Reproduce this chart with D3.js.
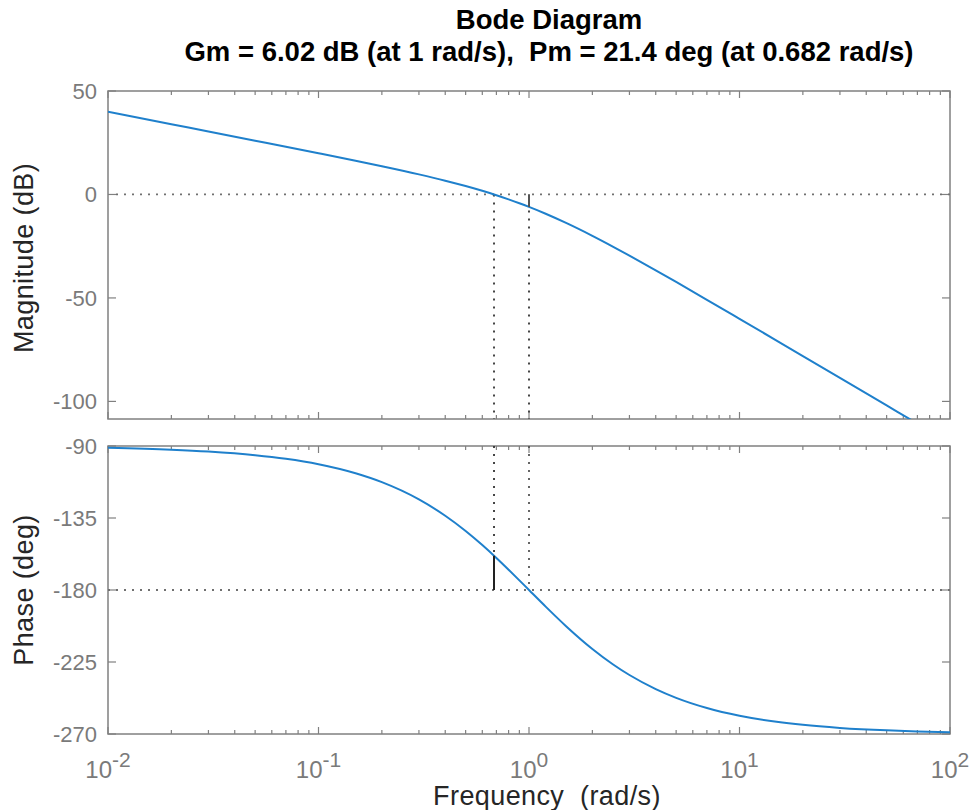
<!DOCTYPE html>
<html><head><meta charset="utf-8">
<script src="https://cdn.jsdelivr.net/npm/d3@7"></script>
<style>body{margin:0;background:#fff}</style>
</head><body><svg id="c" width="975" height="810" xmlns="http://www.w3.org/2000/svg"></svg>
<script>
// ---- data ----
const freq        = [0.01, 0.02, 0.03, 0.05, 0.07, 0.1, 0.15, 0.2, 0.3, 0.4, 0.5, 0.6, 0.7, 0.8, 0.9, 1, 1.2, 1.5, 2, 2.5, 3, 4, 5, 7, 10, 15, 20, 30, 50, 70, 100];
const magnitudeDb = [40.00, 33.97, 30.45, 26.00, 23.06, 19.91, 16.28, 13.64, 9.71, 6.67, 4.08, 1.77, -0.36, -2.36, -4.24, -6.02, -9.33, -13.76, -20.00, -25.17, -29.54, -36.65, -42.28, -50.88, -60.09, -70.60, -78.08, -88.63, -101.94, -110.71, -120.00];
const phaseDeg    = [-91.15, -92.29, -93.44, -95.72, -98.01, -101.42, -107.06, -112.62, -123.40, -133.60, -143.13, -151.93, -159.98, -167.32, -173.97, -180.00, -190.39, -202.62, -216.87, -226.40, -233.13, -241.93, -247.38, -253.74, -258.58, -262.37, -264.28, -266.18, -267.71, -268.36, -268.85];
const magTicks    = [-100, -50, 0, 50];
const phaseTicks  = [-270, -225, -180, -135, -90];
const freqTicks   = [0.01, 0.1, 1, 10, 100];
const freqTickExp = ["-2", "-1", "0", "1", "2"];
const magDomain   = [-108.5, 50];
const phaseDomain = [-270, -90];
const freqDomain  = [0.01, 100];
const gmFreq = 1, gmDb = 6.02, pmFreq = 0.682, pmDeg = 21.4;
const titleLines = ["Bode Diagram", "Gm = 6.02 dB (at 1 rad/s),  Pm = 21.4 deg (at 0.682 rad/s)"];

// ---- layout ----
const L = 108, R = 950;
const topPanel = {t: 91, b: 419};
const botPanel = {t: 446, b: 734};
const FONT = "Liberation Sans, Arial, sans-serif";
const axisColor = "#808080", tickTextColor = "#7a7a7a", labelColor = "#262626", lineColor = "#1f80cc";
const svg = d3.select("#c");
const x = d3.scaleLog().domain(freqDomain).range([L, R]);
const yMag = d3.scaleLinear().domain(magDomain).range([topPanel.b, topPanel.t]);
const yPh = d3.scaleLinear().domain(phaseDomain).range([botPanel.b, botPanel.t]);

const minor = [];
for (let d = -2; d <= 1; d++) for (let k = 2; k <= 9; k++) minor.push(k * Math.pow(10, d));

const defs = svg.append("defs");
[["clipTop", topPanel], ["clipBot", botPanel]].forEach(([id, p]) => {
  defs.append("clipPath").attr("id", id).append("rect")
    .attr("x", L).attr("y", p.t).attr("width", R - L).attr("height", p.b - p.t);
});

function panel(p, y, ticks) {
  const g = svg.append("g");
  const majLen = 7, minLen = 4;
  const tick = (f, len) => {
    g.append("line").attr("x1", x(f)).attr("x2", x(f)).attr("y1", p.b).attr("y2", p.b - len).attr("stroke", axisColor).attr("stroke-width", 1.2);
    g.append("line").attr("x1", x(f)).attr("x2", x(f)).attr("y1", p.t).attr("y2", p.t + len).attr("stroke", axisColor).attr("stroke-width", 1.2);
  };
  freqTicks.forEach(f => tick(f, majLen));
  minor.forEach(f => tick(f, minLen));
  ticks.forEach(v => {
    g.append("line").attr("x1", L).attr("x2", L + 8).attr("y1", y(v)).attr("y2", y(v)).attr("stroke", axisColor).attr("stroke-width", 1.2);
    g.append("line").attr("x1", R).attr("x2", R - 8).attr("y1", y(v)).attr("y2", y(v)).attr("stroke", axisColor).attr("stroke-width", 1.2);
    g.append("text").attr("x", L - 11).attr("y", y(v)).attr("dy", "0.35em")
      .attr("text-anchor", "end").attr("font-family", FONT)
      .attr("font-size", 22).attr("fill", tickTextColor).text(v);
  });
  g.append("rect").attr("x", L).attr("y", p.t).attr("width", R - L).attr("height", p.b - p.t)
    .attr("fill", "none").attr("stroke", axisColor).attr("stroke-width", 1.5);
  return g;
}

const gTop = panel(topPanel, yMag, magTicks);
const gBot = panel(botPanel, yPh, phaseTicks);

const dotStyle = sel => sel.attr("stroke-dasharray", "2,6").attr("stroke-width", 1.8).attr("fill", "none");

// top panel reference lines
dotStyle(gTop.append("line").attr("x1", L + 8).attr("x2", R).attr("y1", yMag(0)).attr("y2", yMag(0)).attr("stroke", "#707070"));
[pmFreq, gmFreq].forEach(f => dotStyle(gTop.append("line").attr("x1", x(f)).attr("x2", x(f))
  .attr("y1", yMag(0)).attr("y2", topPanel.b).attr("stroke", "#333")));
// bottom panel reference lines
dotStyle(gBot.append("line").attr("x1", L).attr("x2", R).attr("y1", yPh(-180)).attr("y2", yPh(-180)).attr("stroke", "#707070"));
dotStyle(gBot.append("line").attr("x1", x(pmFreq)).attr("x2", x(pmFreq)).attr("y1", botPanel.t).attr("y2", yPh(-180 + pmDeg)).attr("stroke", "#333"));
dotStyle(gBot.append("line").attr("x1", x(gmFreq)).attr("x2", x(gmFreq)).attr("y1", botPanel.t).attr("y2", yPh(-180)).attr("stroke", "#555"));

// curves
const pts = freq.map((f, i) => ({f, m: magnitudeDb[i], p: phaseDeg[i]}));
const lineMag = d3.line().x(d => x(d.f)).y(d => yMag(d.m)).curve(d3.curveMonotoneX);
const linePh = d3.line().x(d => x(d.f)).y(d => yPh(d.p)).curve(d3.curveMonotoneX);
gTop.append("path").datum(pts).attr("d", lineMag).attr("clip-path", "url(#clipTop)")
  .attr("fill", "none").attr("stroke", lineColor).attr("stroke-width", 2);
gBot.append("path").datum(pts).attr("d", linePh).attr("clip-path", "url(#clipBot)")
  .attr("fill", "none").attr("stroke", lineColor).attr("stroke-width", 2);

// margin markers
gTop.append("line").attr("x1", x(gmFreq)).attr("x2", x(gmFreq)).attr("y1", yMag(0)).attr("y2", yMag(-gmDb))
  .attr("stroke", "#555").attr("stroke-width", 2);
gBot.append("line").attr("x1", x(pmFreq)).attr("x2", x(pmFreq)).attr("y1", yPh(-180)).attr("y2", yPh(-180 + pmDeg))
  .attr("stroke", "#222").attr("stroke-width", 2);

// x tick labels (bottom panel only)
freqTicks.forEach((f, i) => {
  const t = svg.append("text").attr("x", x(f)).attr("y", 778).attr("text-anchor", "middle")
    .attr("font-family", FONT).attr("font-size", 24).attr("fill", tickTextColor);
  t.append("tspan").text("10");
  t.append("tspan").attr("dy", -11).attr("font-size", 21).text(freqTickExp[i]);
});

// axis labels
svg.append("text").attr("transform", `translate(33,${(topPanel.t + topPanel.b) / 2 + 3}) rotate(-90)`)
  .attr("text-anchor", "middle").attr("font-family", FONT).attr("letter-spacing", 0.4)
  .attr("font-size", 27).attr("fill", labelColor).text("Magnitude (dB)");
svg.append("text").attr("transform", `translate(33,${(botPanel.t + botPanel.b) / 2}) rotate(-90)`)
  .attr("text-anchor", "middle").attr("font-family", FONT).attr("letter-spacing", 0.4)
  .attr("font-size", 27).attr("fill", labelColor).text("Phase (deg)");
svg.append("text").attr("x", 547).attr("y", 805).attr("text-anchor", "middle")
  .attr("font-family", FONT).attr("xml:space", "preserve").attr("letter-spacing", 0.4)
  .attr("font-size", 27).attr("fill", labelColor).text("Frequency  (rad/s)");

// title
titleLines.forEach((s, i) => {
  svg.append("text").attr("x", 549).attr("y", 29 + i * 32).attr("text-anchor", "middle")
    .attr("font-family", FONT).attr("font-weight", "bold")
    .attr("xml:space", "preserve").attr("font-size", 27.5).attr("fill", "#000").text(s);
});
</script></body></html>
